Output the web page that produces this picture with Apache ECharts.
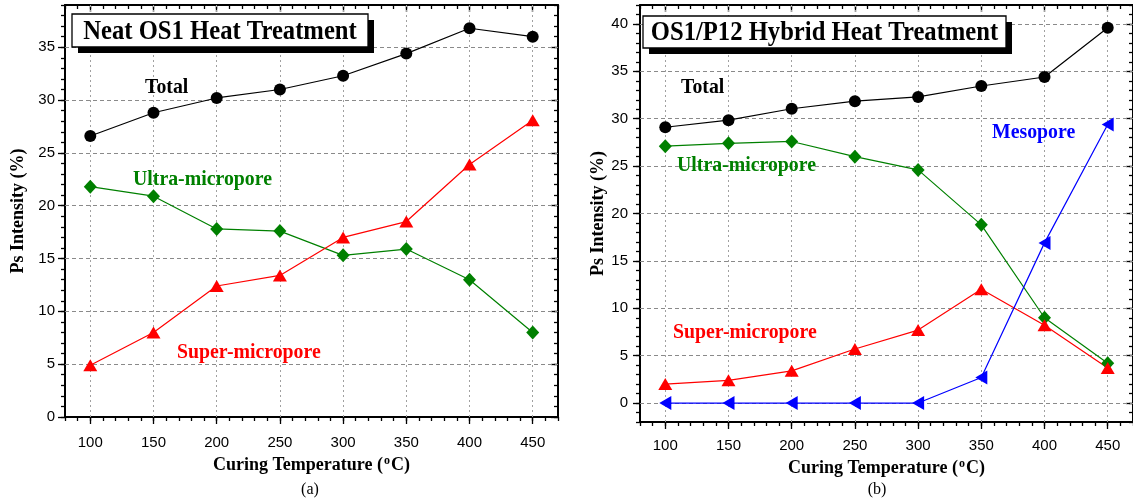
<!DOCTYPE html>
<html><head><meta charset="utf-8">
<script src="https://cdn.jsdelivr.net/npm/echarts@6/dist/echarts.min.js"></script>
<style>html,body{margin:0;padding:0;background:#fff}#c{width:1133px;height:502px}</style>
</head><body><div id="c"></div>
<script>
// ---- data ----
const temps = [100, 150, 200, 250, 300, 350, 400, 450];
const neatTotal = [26.6, 28.8, 30.2, 31.0, 32.3, 34.4, 36.8, 36.0];
const neatUltra = [21.8, 20.9, 17.8, 17.6, 15.3, 15.9, 13.0, 8.0];
const neatSuper = [4.9, 8.0, 12.4, 13.4, 17.0, 18.5, 23.9, 28.1];
const hybTotal = [29.1, 29.85, 31.05, 31.85, 32.3, 33.45, 34.4, 39.6];
const hybUltra = [27.1, 27.4, 27.6, 26.0, 24.6, 18.8, 9.0, 4.2];
const hybSuper = [2.0, 2.4, 3.4, 5.7, 7.7, 12.0, 8.2, 3.7];
const hybMeso = [0, 0, 0, 0, 0, 2.7, 16.9, 29.4];
const xTickValues = [100, 150, 200, 250, 300, 350, 400, 450];
const yTicksA = [0, 5, 10, 15, 20, 25, 30, 35];
const yTicksB = [0, 5, 10, 15, 20, 25, 30, 35, 40];
const xRange = [80, 470];
const yRangeA = [0, 39];
const yRangeB = [-2, 42];

const SERIF = '"Liberation Serif", "Times New Roman", serif';
const SANS = '"Liberation Sans", Arial, sans-serif';

const pairs = arr => temps.map((t, i) => [t, arr[i]]);

const axisLineStyle = { color: '#000', width: 2 };
const tickStyle = { color: '#000', width: 1.3 };

function xAxes(grid, nameGap, labelMargin) {
  const base = { type: 'value', gridIndex: grid, min: xRange[0], max: xRange[1], splitLine: { show: false } };
  return [
    Object.assign({}, base, { position: 'bottom', interval: 10,
      axisLine: { show: true, onZero: false, lineStyle: axisLineStyle },
      axisTick: { show: true, inside: false, length: 4, lineStyle: tickStyle },
      axisLabel: { show: false } }),
    Object.assign({}, base, { position: 'bottom',
      axisLine: { show: false, onZero: false },
      axisTick: { show: true, inside: false, length: 7, lineStyle: tickStyle, customValues: xTickValues },
      axisLabel: { show: true, customValues: xTickValues, fontFamily: SANS, fontSize: 15, color: '#000', margin: labelMargin },
      name: '{a|Curing Temperature (}{s|o}{a|C)}', nameLocation: 'middle', nameGap: nameGap,
      nameTextStyle: { rich: {
        a: { fontFamily: SERIF, fontWeight: 'bold', fontSize: 18, color: '#000' },
        s: { fontFamily: SERIF, fontWeight: 'bold', fontSize: 12, color: '#000', padding: [0, 1, 9, 1] } } } }),
    Object.assign({}, base, { position: 'top', interval: 10,
      axisLine: { show: true, onZero: false, lineStyle: axisLineStyle },
      axisTick: { show: true, inside: true, length: 4, lineStyle: tickStyle },
      axisLabel: { show: false } }),
    Object.assign({}, base, { position: 'top',
      axisLine: { show: false, onZero: false },
      axisTick: { show: true, inside: true, length: 7, lineStyle: tickStyle, customValues: xTickValues },
      axisLabel: { show: false } })
  ];
}

function yAxes(grid, range, ticks, nameGap, labelMargin) {
  const base = { type: 'value', gridIndex: grid, min: range[0], max: range[1], splitLine: { show: false } };
  return [
    Object.assign({}, base, { position: 'left', interval: 1,
      axisLine: { show: true, onZero: false, lineStyle: axisLineStyle },
      axisTick: { show: true, inside: false, length: 4, lineStyle: tickStyle },
      axisLabel: { show: false } }),
    Object.assign({}, base, { position: 'left',
      axisLine: { show: false, onZero: false },
      axisTick: { show: true, inside: false, length: 7, lineStyle: tickStyle, customValues: ticks },
      axisLabel: { show: true, customValues: ticks, fontFamily: SANS, fontSize: 15, color: '#000', margin: labelMargin },
      name: 'Ps Intensity (%)', nameLocation: 'middle', nameGap: nameGap,
      nameTextStyle: { fontFamily: SERIF, fontWeight: 'bold', fontSize: 18, color: '#000' } }),
    Object.assign({}, base, { position: 'right', interval: 1,
      axisLine: { show: true, onZero: false, lineStyle: axisLineStyle },
      axisTick: { show: true, inside: true, length: 4, lineStyle: tickStyle },
      axisLabel: { show: false } }),
    Object.assign({}, base, { position: 'right',
      axisLine: { show: false, onZero: false },
      axisTick: { show: true, inside: true, length: 7, lineStyle: tickStyle, customValues: ticks },
      axisLabel: { show: false } })
  ];
}

function gridSeries(xi, yi, hTicks) {
  const h = hTicks.map(v => ({ yAxis: v, lineStyle: { type: [4, 3], color: '#8a8a8a', width: 1 } }));
  const v = xTickValues.map(x => ({ xAxis: x, lineStyle: { type: [2, 3], color: '#a0a0a0', width: 1 } }));
  return { type: 'line', xAxisIndex: xi, yAxisIndex: yi, data: [], z: 1, silent: true,
    markLine: { silent: true, z: 1, animation: false, symbol: ['none', 'none'], label: { show: false }, data: h.concat(v) } };
}

function line(xi, yi, arr, color, symbol, size, rotate) {
  return { type: 'line', xAxisIndex: xi, yAxisIndex: yi, data: pairs(arr), z: 6,
    symbol: symbol, symbolSize: size, symbolRotate: rotate || 0, showSymbol: true,
    itemStyle: { color: color, borderWidth: 0 }, lineStyle: { color: color, width: 1.2 }, animation: false };
}

const circle = 'circle', diamond = 'diamond', tri = 'triangle';

function label(text, x, y, color) {
  return { type: 'text', x: x, y: y, z: 20, scaleX: 0.9,
    style: { text: text, font: 'bold 22px ' + SERIF, fill: color, align: 'left', verticalAlign: 'middle',
      textAlign: 'left', textVerticalAlign: 'middle' } };
}
function titleBox(text, x, y, w, h) {
  return [
    { type: 'rect', z: 20, shape: { x: x + 6, y: y + 6, width: w, height: h }, style: { fill: '#000' } },
    { type: 'rect', z: 21, shape: { x: x, y: y, width: w, height: h }, style: { fill: '#fff', stroke: '#000', lineWidth: 1.3 } },
    { type: 'text', z: 22, x: x + w / 2, y: y + h / 2 + 1, scaleX: 0.88,
      style: { text: text, font: 'bold 28px ' + SERIF, fill: '#000', align: 'center', verticalAlign: 'middle',
        textAlign: 'center', textVerticalAlign: 'middle' } }
  ];
}
function caption(text, x, y) {
  return { type: 'text', x: x, y: y, z: 20,
    style: { text: text, font: '16px ' + SERIF, fill: '#000', align: 'center', verticalAlign: 'middle',
      textAlign: 'center', textVerticalAlign: 'middle' } };
}

const option = {
  backgroundColor: '#fff',
  animation: false,
  grid: [
    { left: 65, top: 5, width: 493, height: 412, containLabel: false },
    { left: 640, top: 5, width: 494, height: 417, containLabel: false }
  ],
  xAxis: xAxes(0, 38, 18).concat(xAxes(1, 30, 16)),
  yAxis: yAxes(0, yRangeA, yTicksA, 38, 10).concat(yAxes(1, yRangeB, yTicksB, 28, 12)),
  series: [
    gridSeries(1, 1, yTicksA.slice(1)),
    line(1, 1, neatTotal, '#000000', circle, 12),
    line(1, 1, neatUltra, '#008000', diamond, [13, 14]),
    line(1, 1, neatSuper, '#ff0000', tri, [14, 12]),
    gridSeries(5, 5, yTicksB),
    line(5, 5, hybTotal, '#000000', circle, 12),
    line(5, 5, hybUltra, '#008000', diamond, [13, 14]),
    line(5, 5, hybSuper, '#ff0000', tri, [14, 12]),
    line(5, 5, hybMeso, '#0000ff', tri, [14, 12], 90)
  ],
  graphic: [].concat(
    titleBox('Neat OS1 Heat Treatment', 72, 14, 296, 33),
    titleBox('OS1/P12 Hybrid Heat Treatment', 643, 16, 363, 32),
    [
      label('Total', 145, 87, '#000'),
      label('Ultra-micropore', 133, 179, '#008000'),
      label('Super-micropore', 177, 352, '#ff0000'),
      label('Total', 681, 87, '#000'),
      label('Ultra-micropore', 677, 165, '#008000'),
      label('Super-micropore', 673, 332, '#ff0000'),
      label('Mesopore', 992, 132, '#0000ff'),
      caption('(a)', 310, 490),
      caption('(b)', 877, 490)
    ]
  )
};

const chart = echarts.init(document.getElementById('c'), null, { renderer: 'canvas' });
chart.setOption(option);
</script>
</body></html>
